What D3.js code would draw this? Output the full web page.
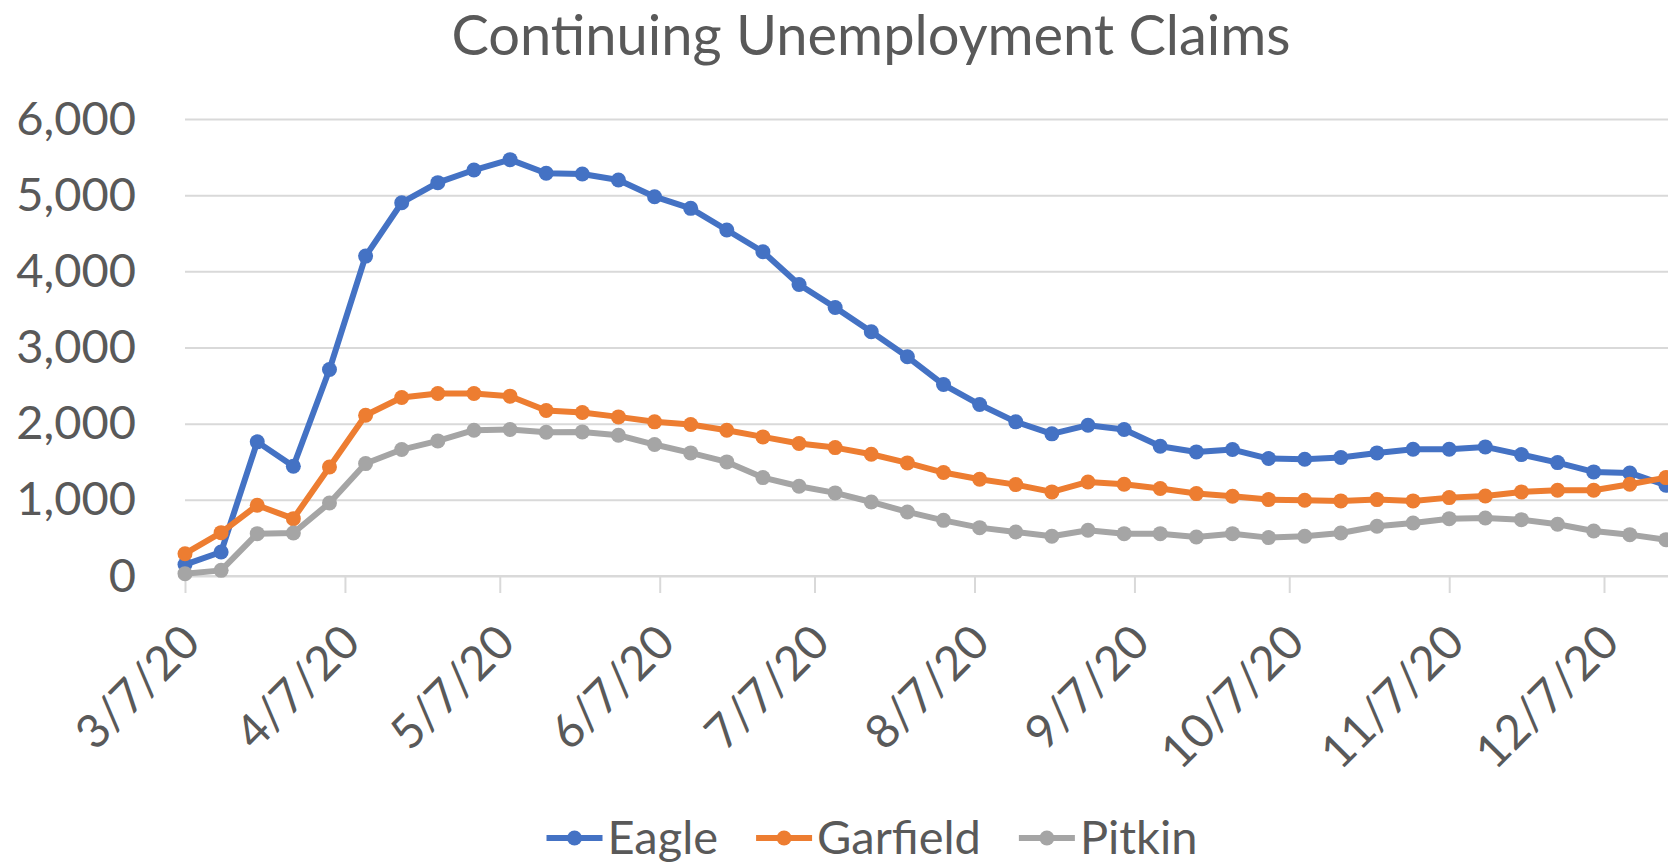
<!DOCTYPE html>
<html>
<head>
<meta charset="utf-8">
<script src="https://cdn.jsdelivr.net/npm/d3@7"></script>
<style>
  body { margin: 0; background: #fff; }
  text { font-family: Lato, "Open Sans", sans-serif; fill: #595959; }
</style>
</head>
<body>
<svg width="1668" height="866"></svg>
<script>
// weekly data, week ending dates
const dates = ['3/7/20','3/14/20','3/21/20','3/28/20','4/4/20','4/11/20','4/18/20','4/25/20',
    '5/2/20','5/9/20','5/16/20','5/23/20','5/30/20','6/6/20','6/13/20','6/20/20','6/27/20',
    '7/4/20','7/11/20','7/18/20','7/25/20','8/1/20','8/8/20','8/15/20','8/22/20','8/29/20',
    '9/5/20','9/12/20','9/19/20','9/26/20','10/3/20','10/10/20','10/17/20','10/24/20','10/31/20',
    '11/7/20','11/14/20','11/21/20','11/28/20','12/5/20','12/12/20','12/19/20']

const eagle = [150, 315, 1761, 1441, 2711, 4200, 4901, 5164, 5330, 5466, 5287, 5278, 5199, 4980,
    4827, 4542, 4257, 3828, 3526, 3206, 2878, 2514, 2251, 2024, 1866, 1980, 1923, 1704, 1629, 1660,
    1542, 1533, 1555, 1616, 1664, 1664, 1695, 1594, 1489, 1367, 1353, 1191]
const garfield = [293, 569, 929, 753, 1432, 2111, 2343, 2396, 2396, 2361, 2172, 2146, 2089, 2024,
    1989, 1914, 1826, 1739, 1686, 1599, 1485, 1358, 1270, 1200, 1104, 1235, 1205, 1148, 1082, 1047,
    1003, 994, 986, 1003, 986, 1029, 1051, 1104, 1126, 1126, 1205, 1292]
const pitkin = [31, 74, 556, 565, 959, 1476, 1660, 1774, 1914, 1923, 1888, 1892, 1848, 1726,
    1616, 1498, 1292, 1178, 1091, 972, 841, 731, 635, 578, 521, 600, 556, 556, 512, 556,
    504, 521, 565, 653, 696, 753, 762, 740, 679, 591, 543, 477]

const seriesNames = ['Eagle', 'Garfield', 'Pitkin']
const colors = ['#4472C4', '#ED7D31', '#A5A5A5']
const xTickLabels = ['3/7/20','4/7/20','5/7/20','6/7/20','7/7/20','8/7/20','9/7/20','10/7/20','11/7/20','12/7/20']
const yTicks = [0, 1000, 2000, 3000, 4000, 5000, 6000]

const svg = d3.select('svg')
const W = +svg.attr('width')
const margin = { top: 119, left: 185 }
const parse = d3.timeParse('%m/%d/%y')

const x = d3.scaleTime()
    .domain([parse('3/7/20'), parse('12/7/20')])
    .range([margin.left, 1604])
const y = d3.scaleLinear()
    .domain([0, 6000])
    .range([576, margin.top])

// title
svg.append('text')
    .attr('x', 871)
    .attr('y', 55)
    .attr('text-anchor', 'middle')
    .style('font-size', '56px')
    .text('Continuing Unemployment Claims')

// y axis + gridlines
const yAxis = svg.append('g')
    .attr('transform', `translate(${margin.left},0)`)
    .call(d3.axisLeft(y).tickValues(yTicks).tickFormat(d3.format(','))
        .tickSize(-(W - margin.left)).tickPadding(49))
yAxis.select('.domain').remove()
yAxis.selectAll('line').attr('stroke', '#d9d9d9').attr('stroke-width', 2)
yAxis.selectAll('text')
    .style('font-size', '47px')
    .style('font-family', 'Lato')
    .attr('fill', '#595959')

// x axis
const xAxis = svg.append('g')
    .attr('transform', `translate(0,${y(0)})`)
    .call(d3.axisBottom(x).tickValues(xTickLabels.map(parse))
        .tickFormat(d3.timeFormat('%-m/%-d/%y')).tickSize(17).tickSizeOuter(0))
xAxis.select('.domain').attr('stroke', '#d9d9d9').attr('stroke-width', 2)
    .attr('d', `M${margin.left},0H${W}`)
xAxis.selectAll('line').attr('stroke', '#d9d9d9').attr('stroke-width', 2)
xAxis.selectAll('text')
    .style('font-size', '47px')
    .style('font-family', 'Lato')
    .attr('fill', '#595959')
    .attr('text-anchor', 'end')
    .attr('dy', null)
    .attr('y', 0)
    .attr('transform', 'translate(17,69) rotate(-45)')

// lines
const data = [eagle, garfield, pitkin].map((vals, i) => ({
    name: seriesNames[i],
    color: colors[i],
    values: vals.map((v, j) => ({ date: parse(dates[j]), value: v }))
}))

const line = d3.line()
    .x(d => x(d.date))
    .y(d => y(d.value))

const series = svg.selectAll('.series')
    .data(data)
    .enter().append('g')
    .attr('class', 'series')

series.append('path')
    .attr('d', d => line(d.values))
    .attr('fill', 'none')
    .attr('stroke', d => d.color)
    .attr('stroke-width', 6)
    .attr('stroke-linejoin', 'round')

series.selectAll('circle')
    .data(d => d.values.map(v => ({ ...v, color: d.color })))
    .enter().append('circle')
    .attr('cx', d => x(d.date))
    .attr('cy', d => y(d.value))
    .attr('r', 7.5)
    .attr('fill', d => d.color)

// legend
const legend = svg.append('g')
const items = legend.selectAll('g')
    .data(data)
    .enter().append('g')

items.append('line')
    .attr('x1', 0).attr('x2', 56)
    .attr('y1', 0).attr('y2', 0)
    .attr('stroke', d => d.color)
    .attr('stroke-width', 6)
items.append('circle')
    .attr('cx', 28).attr('cy', 0).attr('r', 7.5)
    .attr('fill', d => d.color)
items.append('text')
    .attr('x', 61)
    .attr('dy', '0.35em')
    .style('font-size', '47px')
    .text(d => d.name)

let offset = 0
items.each(function () {
    const w = this.getBBox().width
    d3.select(this).attr('transform', `translate(${offset},0)`)
    offset += w + 38
})
const total = offset - 38
legend.attr('transform', `translate(${872 - total / 2},838)`)
</script>
</body>
</html>
